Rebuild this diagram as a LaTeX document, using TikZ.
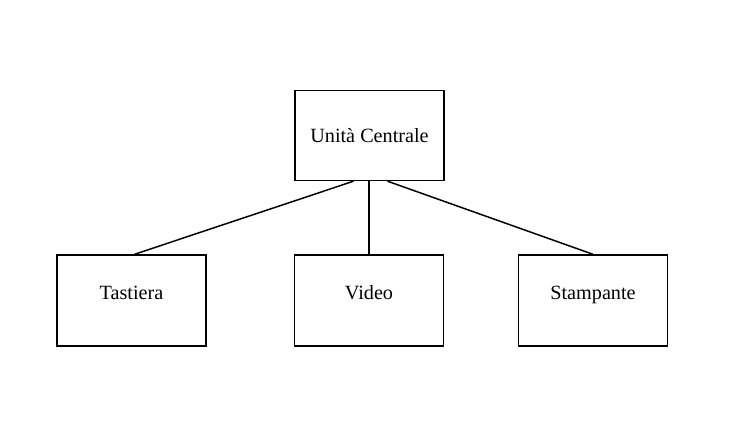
\documentclass[tikz,border=0pt]{standalone}
\usepackage{fontspec}
\setmainfont{Liberation Serif}
\usetikzlibrary{positioning,calc}
\tikzset{
unit/.style={
draw,
line width=0.8pt,
minimum width=2.98cm,
minimum height=1.8cm,
align=center,
font=\fontsize{11.5}{13}\selectfont
},
device/.style={
unit,
minimum height=1.82cm,
text height=0.27cm,
text depth=0.33cm
},
link/.style={
line width=0.85pt
}
}
\begin{document}
\begin{tikzpicture}[x=0.02cm,y=-0.02cm]
\useasboundingbox (0,0) rectangle (737,436);
\node[unit](uc) at (369.5,135.5){Unità Centrale};
\node[device](tas) at (131.5,300.5){Tastiera};
\node[device](vid) at (369,300.5){Video};
\node[device](sta) at (593,300.5){Stampante};

\draw[link]($(uc.south)+(-16,0)$)--($(tas.north)+(3,0)$);
\draw[link](vid.north |- uc.south)--(vid.north);
\draw[link]($(uc.south)+(18,0)$)--(sta.north);
\end{tikzpicture}
\end{document}
